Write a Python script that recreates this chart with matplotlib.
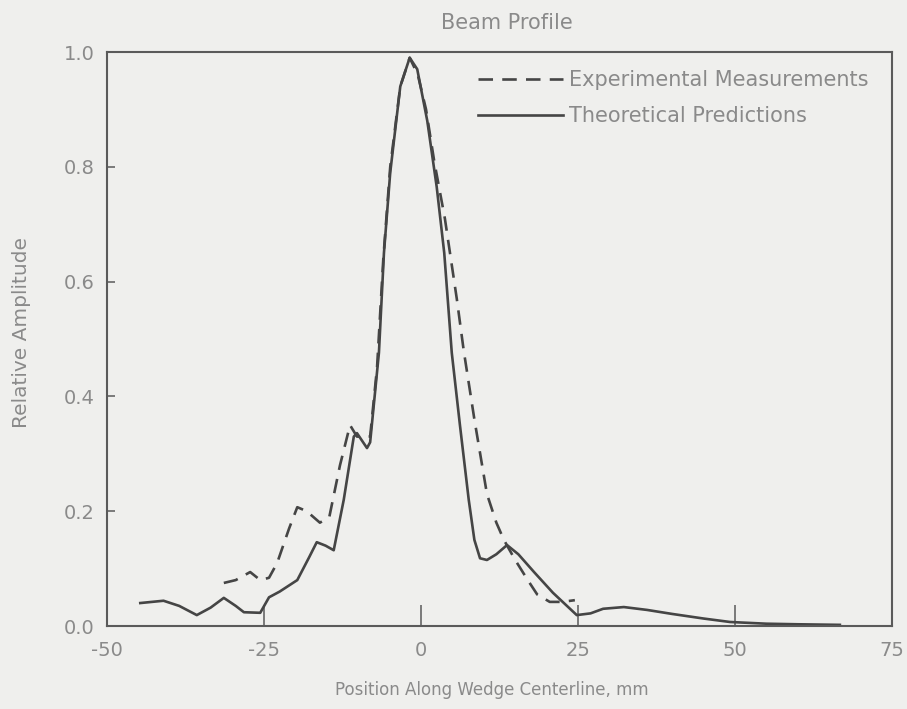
import matplotlib
matplotlib.use("Agg")
import matplotlib.pyplot as plt

plt.rcParams['font.family'] = ['DejaVu Sans']
plt.rcParams['axes.unicode_minus'] = False

# theoretical predictions (solid)
theory_x = [-44.7, -41.0, -38.5, -35.7, -33.5, -31.4, -29.5, -28.2, -25.6, -24.2,
            -22.5, -19.7, -17.8, -16.6, -15.2, -13.9, -12.3, -10.7, -10.2, -8.6,
            -8.1, -6.7, -5.9, -4.9, -3.3, -1.8, -0.6, 1.0, 2.5, 3.7,
            4.9, 6.2, 7.6, 8.5, 9.4, 10.5, 12.0, 13.7, 15.5, 18.0,
            21.0, 24.8, 27.0, 29.0, 32.3, 36.0, 40.0, 45.0, 49.2, 55.0,
            60.0, 66.7]
theory_y = [0.040, 0.044, 0.035, 0.019, 0.032, 0.049, 0.035, 0.024, 0.023, 0.050,
            0.060, 0.080, 0.120, 0.146, 0.140, 0.132, 0.220, 0.330, 0.336, 0.310,
            0.320, 0.476, 0.650, 0.790, 0.940, 0.990, 0.970, 0.880, 0.765, 0.650,
            0.476, 0.350, 0.220, 0.150, 0.118, 0.115, 0.125, 0.141, 0.125, 0.094,
            0.058, 0.019, 0.022, 0.030, 0.033, 0.028, 0.021, 0.013, 0.007, 0.004,
            0.003, 0.002]

# experimental measurements (dashed)
exp_x = [-31.4, -29.5, -27.2, -25.6, -24.2, -22.9, -21.0, -19.7, -18.2, -16.1,
         -14.6, -12.9, -11.3, -10.2, -8.1, -7.0, -6.0, -4.9, -3.3, -1.8,
         -0.5, 0.8, 2.1, 3.8, 5.7, 6.8, 8.5, 10.5, 12.0, 13.2,
         15.0, 17.0, 18.5, 20.5, 22.5, 24.5]
exp_y = [0.075, 0.080, 0.094, 0.080, 0.084, 0.110, 0.170, 0.207, 0.200, 0.180,
         0.190, 0.280, 0.350, 0.330, 0.330, 0.450, 0.640, 0.800, 0.940, 0.990,
         0.960, 0.900, 0.810, 0.710, 0.570, 0.480, 0.360, 0.230, 0.180, 0.150,
         0.115, 0.080, 0.055, 0.042, 0.042, 0.045]

bg = '#efefed'
ink = '#454545'
txt = '#8a8a8a'

fig = plt.figure(figsize=(9.07, 7.09), dpi=100, facecolor=bg)
# axes box: 107..892 px across, 52..626 px down
ax = fig.add_axes([107 / 907, 1 - 626 / 709, 785 / 907, 574 / 709], facecolor=bg)

ax.plot(exp_x, exp_y, color=ink, lw=1.9, dashes=(5.5, 3.5),
        label='Experimental Measurements')
ax.plot(theory_x, theory_y, color=ink, lw=1.9, label='Theoretical Predictions')

ax.set_xlim(-50, 75)
ax.set_ylim(0, 1.0)
ax.set_xticks([-50, -25, 0, 25, 50, 75])
ax.set_yticks([0.0, 0.2, 0.4, 0.6, 0.8, 1.0])
ax.set_yticklabels(['0.0', '0.2', '0.4', '0.6', '0.8', '1.0'])

for s in ax.spines.values():
    s.set_color('#5a5a5a')
    s.set_linewidth(1.5)

ax.tick_params(axis='x', direction='in', length=15, width=1.1, color='#5a5a5a',
               pad=11, labelsize=14, labelcolor=txt)
ax.tick_params(axis='y', direction='in', length=6, width=1.1, color='#5a5a5a',
               pad=9, labelsize=14, labelcolor=txt)

ax.set_xlabel('Position Along Wedge Centerline, mm', fontsize=12, color=txt)
ax.xaxis.set_label_coords(0.49, -0.111)
ax.set_ylabel('Relative Amplitude', fontsize=14.5, color=txt)
ax.yaxis.set_label_coords(-0.109, 0.512)
ax.xaxis.label.set_va('center')
ax.yaxis.label.set_va('center')

ax.text(0.51, 1.05, 'Beam Profile', transform=ax.transAxes, ha='center',
        va='center', fontsize=15, color=txt)

leg = ax.legend(loc='upper left', bbox_to_anchor=(0.472, 0.968), frameon=False,
                fontsize=15, handlelength=4.1, handletextpad=0.3,
                labelspacing=0.75, borderpad=0, borderaxespad=0)
for t in leg.get_texts():
    t.set_color(txt)

fig.savefig('out.png', dpi=100, facecolor=bg)
